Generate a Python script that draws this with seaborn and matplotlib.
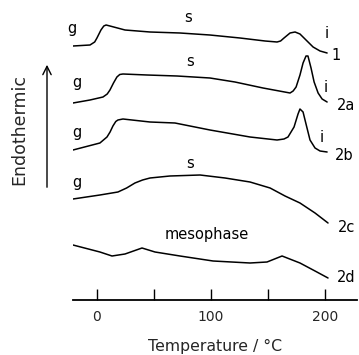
import numpy as np
import pandas as pd
import matplotlib
matplotlib.use("Agg")
import matplotlib.pyplot as plt
import seaborn as sns

sns.set_theme(style="white")
plt.rcParams['font.family'] = ['DejaVu Sans']

# Temperature (°C) and endothermic signal (arbitrary units, stacked)
t_1 = [-21, -6.1, -2, 0, 3.5, 6, 8, 11.4, 24.6, 46.5, 72.8, 99, 125.4, 147.4, 157.9, 161, 164, 169.3, 173.7, 178, 183.3, 189.5, 195.6, 201.8]
y_1 = [254, 255, 258, 262, 270, 274, 275, 274, 270, 268, 267, 265, 262, 259, 258, 259, 262, 267, 268, 266, 260, 253, 249, 247]

t_2a = [-21, -6.1, 5.3, 9, 11.4, 14.5, 17.5, 20, 22.8, 43.9, 70.2, 99.1, 121, 145.6, 169.3, 172, 174.6, 178, 180.7, 183.3, 185, 187.7, 190.4, 193.9, 197.4, 201.8]
y_2a = [197, 200, 203, 206, 210, 217, 223, 225.5, 226, 225, 224, 222, 218, 212, 207, 209, 213, 225, 237, 244, 244, 232, 218, 207, 201, 198]

t_2b = [-21, 2.6, 8.8, 11.5, 14, 16.5, 18.4, 22.8, 46.5, 68.4, 99.1, 134.2, 157.9, 164, 167.5, 172.8, 176.3, 178, 180.7, 183.3, 186.8, 191.2, 195.6, 201.8]
y_2b = [150, 157, 163, 168, 174, 178.5, 180, 181, 178, 177, 170, 163, 160, 161, 163, 173, 186, 191, 188, 176, 160, 152, 149, 148]

t_2c = [-21, 2.6, 18.4, 26, 33.3, 40, 46.5, 64, 90.4, 112.3, 134.2, 151.8, 164.9, 178, 191.2, 202.6]
y_2c = [101, 105, 108, 112, 117, 120, 122, 124, 125, 122, 118, 112, 104, 97, 87, 77]

t_2d = [-21, 2.6, 13.2, 24.6, 39.5, 50.9, 72.8, 101.8, 134.2, 149.1, 162.3, 178, 191.2, 202.6]
y_2d = [55, 48, 44, 46, 52, 48, 44, 39, 37, 38, 44, 37, 29, 22]

curve_names = ["1", "2a", "2b", "2c", "2d"]
tick_values = [0, 50, 100, 150, 200]
tick_labels = ["0", "", "100", "", "200"]

frames = []
for name, t, y in zip(curve_names, [t_1, t_2a, t_2b, t_2c, t_2d], [y_1, y_2a, y_2b, y_2c, y_2d]):
    frames.append(pd.DataFrame({"T": t, "y": y, "curve": name}))
df = pd.concat(frames, ignore_index=True)

fig = plt.figure(figsize=(3.59, 3.55), dpi=100)
ax = fig.add_axes([73 / 359, 55 / 355, (357 - 73) / 359, 300 / 355])

sns.lineplot(data=df, x="T", y="y", units="curve", estimator=None, sort=False,
             color="black", linewidth=1.1, ax=ax, legend=False)
for ln in ax.lines:
    ln.set_solid_joinstyle("round")

ax.set_xlim(-21, 228)
ax.set_ylim(0, 300)
for s in ["left", "top", "right"]:
    ax.spines[s].set_visible(False)
ax.spines["bottom"].set_color("black")
ax.spines["bottom"].set_linewidth(1.3)
ax.set_yticks([])
ax.set_xticks(tick_values)
ax.set_xticklabels(tick_labels)
ax.tick_params(axis="x", direction="in", length=8, width=1.0, color="black",
               labelsize=10, pad=7, bottom=True)
ax.set_xlabel("Temperature / °C", fontsize=11.3, labelpad=11)
ax.set_ylabel("")

fs = 10.5
kw = dict(fontsize=fs, color="black", clip_on=False)
# phase labels
for (x, y, s) in [(-21.9, 272, "g"), (-17.5, 217, "g"), (-17.5, 167, "g"), (-17.5, 118, "g"),
                  (79.8, 282, "s"), (81.6, 238, "s"), (81.6, 137, "s"),
                  (96.5, 65, "mesophase"),
                  (201.8, 267, "i"), (200.9, 212, "i"), (197.4, 163, "i")]:
    ax.text(x, y, s, ha="center", va="center", **kw)
# curve labels
for (x, y, s) in [(206, 245, "1"), (210.5, 195, "2a"), (208.8, 145, "2b"),
                  (211.4, 73, "2c"), (210.5, 22, "2d")]:
    ax.text(x, y, s, ha="left", va="center", **kw)

fig.add_artist(matplotlib.patches.FancyArrowPatch((47 / 359, 1 - 190 / 355), (47 / 359, 1 - 62 / 355),
                                                  transform=fig.transFigure, arrowstyle="->,head_length=6,head_width=3",
                                                  color="black", linewidth=1.0, mutation_scale=1))
fig.text(19 / 359, 1 - 130 / 355, "Endothermic", rotation=90, ha="center", va="center", fontsize=12.5)

fig.savefig("out.png", dpi=100)
